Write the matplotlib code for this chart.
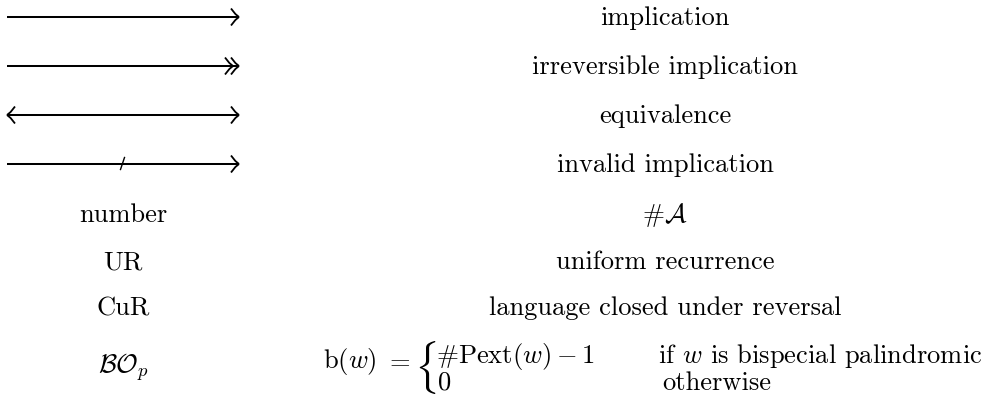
import matplotlib
matplotlib.use("Agg")
import matplotlib.pyplot as plt

plt.rcParams['mathtext.fontset'] = 'cm'
plt.rcParams['font.family'] = 'cmr10'
plt.rcParams['axes.unicode_minus'] = False

arrow_kinds = ["single", "double", "both", "invalid"]
arrow_labels = ["implication", "irreversible implication", "equivalence", "invalid implication"]
symbol_labels = ["number", "UR", "CuR"]
symbol_meanings = [r"$\#\mathcal{A}$", "uniform recurrence", "language closed under reversal"]
last_symbol = r"$\mathcal{BO}_p$"

W, H = 987, 398
fig = plt.figure(figsize=(W / 100, H / 100), dpi=100)
ax = fig.add_axes([0, 0, 1, 1])
ax.set_xlim(0, W)
ax.set_ylim(H, 0)
ax.axis('off')

FS = 19.1
LW = 1.45
left_c = 123
right_c = 665
x0, x1 = 7, 239
arrow_y = [17, 66, 115, 164]
arrow_base = [25, 74, 123, 172]
sym_base = [222, 269, 315]


def head(tip, y, direction):
    L = 8
    hw = 8.5
    for s in (-1, 1):
        xs = [tip - direction * L, tip - direction * L * 0.45, tip]
        ys = [y + s * hw, y + s * hw * 0.35, y]
        ax.plot(xs, ys, color='black', lw=LW * 0.9, solid_capstyle='butt')


for i, (kind, lab) in enumerate(zip(arrow_kinds, arrow_labels)):
    y = arrow_y[i]
    ax.plot([x0, x1], [y, y], color='black', lw=LW, solid_capstyle='butt')
    head(x1, y, 1)
    if kind == "double":
        head(x1 - 6, y, 1)
    if kind == "both":
        head(x0, y, -1)
    if kind == "invalid":
        ax.plot([120.5, 124.5], [169.5, 157.5], color='black', lw=1.0)
    ax.text(right_c, arrow_base[i], lab, ha='center', va='baseline', fontsize=FS)

for j, (s, m) in enumerate(zip(symbol_labels, symbol_meanings)):
    yb = sym_base[j]
    ax.text(left_c, yb, s, ha='center', va='baseline', fontsize=FS)
    ax.text(right_c, yb, m, ha='center', va='baseline', fontsize=FS)

# last row: BO_p definition
ax.text(left_c, 373, last_symbol, ha='center', va='baseline', fontsize=FS)
ax.text(377, 368, r"$\mathrm{b}(w)$", ha='right', va='baseline', fontsize=FS)
ax.text(411, 368, r"$=$", ha='right', va='baseline', fontsize=FS)
ax.text(414, 368, r"$\{$", ha='left', va='center', fontsize=FS * 1.62)
ax.text(436, 363, r"$\#\mathrm{Pext}(w) - 1$", ha='left', va='baseline', fontsize=FS)
ax.text(437, 390, r"$0$", ha='left', va='baseline', fontsize=FS)
ax.text(658, 363, r"if $w$ is bispecial palindromic", ha='left', va='baseline', fontsize=FS)
ax.text(662, 390, "otherwise", ha='left', va='baseline', fontsize=FS)

fig.savefig("out.png", dpi=100)
